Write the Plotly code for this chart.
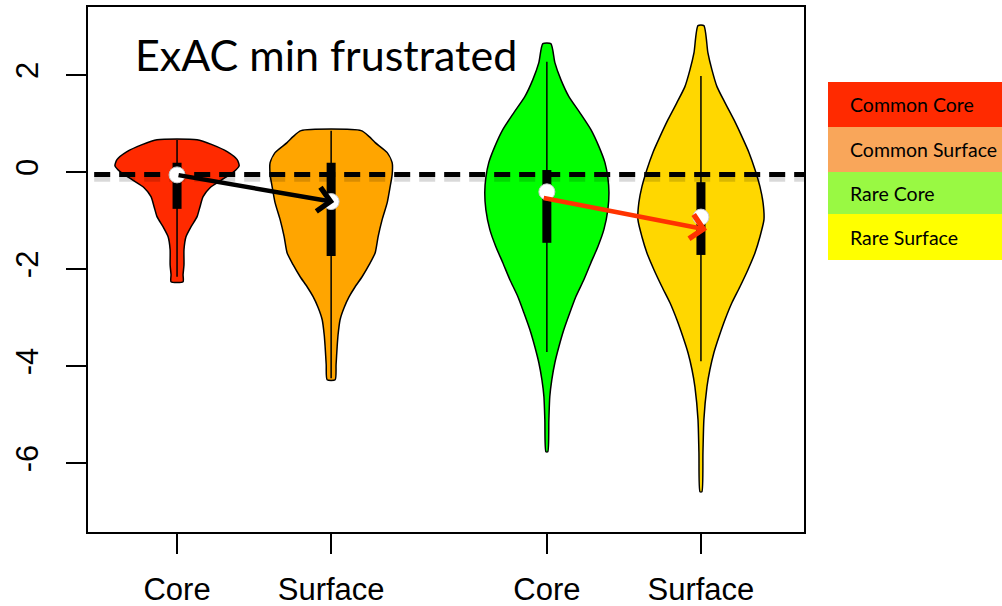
import plotly.graph_objects as go

# ---------------- data ----------------
positions = [1.0, 2.0, 3.4, 4.4]
tick_labels = ["Core", "Surface", "Core", "Surface"]
fill_colors = ["#FF2A00", "#FFA500", "#00FF00", "#FFD700"]

# violin outlines: y levels and half-widths (x units)
cc_y = [0.666, 0.563, 0.419, 0.254, 0.130, 0.006, -0.159, -0.324, -0.509, -0.715, -0.921, -1.127, -1.334, -1.602, -1.911, -2.117, -2.262]
cc_w = [0.130, 0.227, 0.325, 0.390, 0.403, 0.370, 0.292, 0.214, 0.169, 0.149, 0.130, 0.091, 0.058, 0.045, 0.045, 0.039, 0.039]

cs_y = [0.852, 0.728, 0.604, 0.398, 0.192, -0.055, -0.303, -0.632, -0.983, -1.334, -1.664, -1.911, -2.159, -2.365, -2.571, -2.798, -3.045, -3.355, -3.602, -3.973, -4.282]
cs_w = [0.195, 0.247, 0.286, 0.364, 0.396, 0.396, 0.383, 0.364, 0.331, 0.305, 0.286, 0.247, 0.201, 0.156, 0.117, 0.084, 0.058, 0.045, 0.039, 0.032, 0.026]

rc_y = [2.645, 2.254, 1.903, 1.553, 1.223, 0.872, 0.522, 0.192, -0.117, -0.426, -0.777, -1.189, -1.540, -1.870, -2.220, -2.571, -2.901, -3.252, -3.602, -3.932, -4.283, -4.633, -5.107, -5.767]
rc_w = [0.026, 0.052, 0.091, 0.143, 0.214, 0.286, 0.338, 0.377, 0.396, 0.403, 0.396, 0.370, 0.331, 0.286, 0.240, 0.188, 0.149, 0.110, 0.078, 0.052, 0.032, 0.019, 0.013, 0.006]

rs_y = [3.016, 2.460, 2.109, 1.759, 1.429, 1.078, 0.728, 0.398, 0.047, -0.303, -0.632, -0.983, -1.334, -1.664, -2.014, -2.365, -2.695, -3.045, -3.396, -3.726, -4.076, -4.427, -5.107, -5.787, -6.592]
rs_w = [0.019, 0.045, 0.071, 0.104, 0.156, 0.214, 0.266, 0.312, 0.351, 0.383, 0.403, 0.409, 0.383, 0.351, 0.305, 0.253, 0.201, 0.156, 0.117, 0.084, 0.058, 0.039, 0.019, 0.013, 0.006]

whisker_hi = [0.66, 0.85, 2.27, 1.98]
whisker_lo = [-2.16, -4.25, -3.71, -3.90]
q3 = [0.19, 0.19, 0.04, -0.21]
q1 = [-0.76, -1.73, -1.46, -1.71]
medians = [-0.06, -0.61, -0.41, -0.93]

ref_line = -0.05
arrow_black = [(1.0, -0.06), (2.02, -0.62)]
arrow_red = [(3.37, -0.53), (4.44, -1.19)]

legend_labels = ["Common Core", "Common Surface", "Rare Core", "Rare Surface"]
legend_colors = ["#FF2A00", "#F9A65A", "#99F943", "#FFFF00"]

title_text = "ExAC min frustrated"

# ---------------- layout geometry ----------------
W, H = 1002, 606
ML, MR, MT, MB = 88, 198, 7, 74
PW, PH = W - ML - MR, H - MT - MB


def px_x(px):
    return (px - ML) / PW


def px_y(py):
    return (H - MB - py) / PH


fig = go.Figure()

profiles = [(cc_y, cc_w), (cs_y, cs_w), (rc_y, rc_w), (rs_y, rs_w)]
for pos, (ys, ws), col in zip(positions, profiles, fill_colors):
    xs = [pos + w for w in ws] + [pos - w for w in reversed(ws)]
    yy = list(ys) + list(reversed(ys))
    xs.append(xs[0])
    yy.append(yy[0])
    fig.add_trace(go.Scatter(x=xs, y=yy, mode="lines", fill="toself", fillcolor=col,
                             line=dict(color="black", width=1.5, shape="spline", smoothing=0.6),
                             hoverinfo="skip", showlegend=False))

for pos, hi, lo in zip(positions, whisker_hi, whisker_lo):
    fig.add_trace(go.Scatter(x=[pos, pos], y=[lo, hi], mode="lines",
                             line=dict(color="black", width=1.5), hoverinfo="skip", showlegend=False))
for pos, a, b in zip(positions, q1, q3):
    fig.add_trace(go.Scatter(x=[pos, pos], y=[a, b], mode="lines",
                             line=dict(color="black", width=9), hoverinfo="skip", showlegend=False))

# dashed reference line (with soft shadow)
fig.add_trace(go.Scatter(x=[0.3, 5.2], y=[ref_line - 0.06, ref_line - 0.06], mode="lines",
                         line=dict(color="rgba(0,0,0,0.15)", width=9, dash="16px,9px"),
                         hoverinfo="skip", showlegend=False))
fig.add_trace(go.Scatter(x=[0.3, 5.2], y=[ref_line, ref_line], mode="lines",
                         line=dict(color="black", width=5, dash="16px,9px"),
                         hoverinfo="skip", showlegend=False))

fig.add_trace(go.Scatter(x=positions, y=medians, mode="markers",
                         marker=dict(color="white", size=16, line=dict(color="#cccccc", width=1)),
                         hoverinfo="skip", showlegend=False))

for (x0, y0), (x1, y1), col in [(arrow_black[0], arrow_black[1], "black"), (arrow_red[0], arrow_red[1], "#FF3300")]:
    fig.add_annotation(x=x1, y=y1, ax=x0, ay=y0, xref="x", yref="y", axref="x", ayref="y",
                       text="", showarrow=True, arrowhead=4, arrowsize=1.05, arrowwidth=4.5,
                       arrowcolor=col, standoff=0, startstandoff=0)

# title
fig.add_annotation(x=px_x(133), y=px_y(55), xref="paper", yref="paper", text=title_text,
                   showarrow=False, xanchor="left", yanchor="middle",
                   font=dict(family="Lato", size=43, color="black"))

# legend boxes
box_edges = [82, 127, 172, 214, 260]
for i, (lab, col) in enumerate(zip(legend_labels, legend_colors)):
    fig.add_shape(type="rect", xref="paper", yref="paper",
                  x0=px_x(828), x1=px_x(1003), y0=px_y(box_edges[i + 1]), y1=px_y(box_edges[i]),
                  fillcolor=col, line=dict(width=0), layer="below")
    fig.add_annotation(x=px_x(848), y=px_y((box_edges[i] + box_edges[i + 1]) / 2), xref="paper", yref="paper",
                       text=lab, showarrow=False, xanchor="left", yanchor="middle",
                       font=dict(family="Lato", size=19.5, color="black"))

axis_font = dict(family="Liberation Sans, Arial", size=31, color="black")
fig.update_layout(
    width=W, height=H, margin=dict(l=ML, r=MR, t=MT, b=MB, pad=0),
    paper_bgcolor="white", plot_bgcolor="white", showlegend=False,
    xaxis=dict(range=[1 - 89 / 154, 4.4 + 103 / 154], tickvals=positions, ticktext=tick_labels,
               showgrid=False, zeroline=False, showline=True, mirror=True, linecolor="black", linewidth=1.5,
               ticks="outside", ticklen=20, tickwidth=1.5, tickcolor="black", tickfont=axis_font,
               ticklabelstandoff=9, automargin=False),
    yaxis=dict(range=[-7.42, 3.40], tickvals=[-6, -4, -2, 0, 2], ticktext=["-6", "-4", "-2", "0", "2"],
               showgrid=False, zeroline=False, showline=True, mirror=True, linecolor="black", linewidth=1.5,
               ticks="outside", ticklen=20, tickwidth=1.5, tickcolor="black", tickfont=axis_font,
               tickangle=-90, ticklabelstandoff=16, automargin=False),
)

fig.write_html("out.html")
